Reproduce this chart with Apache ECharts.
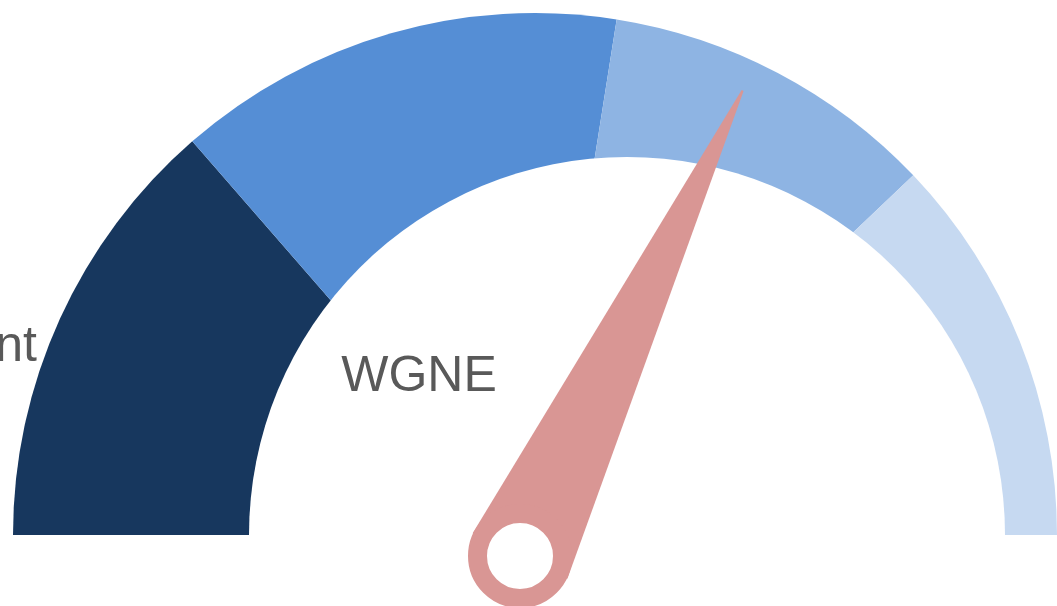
<!DOCTYPE html>
<html>
<head>
<meta charset="utf-8">
<script src="https://cdn.jsdelivr.net/npm/echarts@6/dist/echarts.min.js"></script>
<style>
	html, body { margin: 0; padding: 0; background: #fff; }
	#chart { width: 1057px; height: 606px; }
</style>
</head>
<body>
<div id="chart"></div>
<script type="text/javascript">
    // 分段（上半圆，总和 100）
    var bandNames = ['段1', '段2', '段3', '段4'];
    var bandValues = [27.2, 27.8, 20.8, 24.2];
    var bandColors = ['#17375E', '#558ED5', '#8EB4E3', '#C6D9F1'];
    // 指针
    var needleName = 'WGNE';
    var needleValue = 64.2;
    var sideLabel = 'nt';

    var total = 0;
    for (var i = 0; i < bandValues.length; i++) total += bandValues[i];

    var bandData = [];
    for (var i = 0; i < bandValues.length; i++) {
        bandData.push({ name: bandNames[i], value: bandValues[i], itemStyle: { color: bandColors[i] } });
    }
    // 下半圆隐藏
    bandData.push({ name: 'hidden', value: total, itemStyle: { color: 'none' } });

    var myChart = echarts.init(document.getElementById('chart'), null, { renderer: 'canvas' });
    var option = {
        animation: false,
        backgroundColor: '#fff',
        graphic: [
            {
                type: 'text', right: 1057 - 37, top: 322, z: 10,
                style: { text: sideLabel, fill: '#595959', font: '50px "Liberation Sans", Arial, sans-serif' }
            }
        ],
        series: [
            {
                type: 'pie',
                center: [535, 535],
                radius: [0, 522],
                startAngle: 180,
                clockwise: true,
                silent: true,
                label: { show: false },
                labelLine: { show: false },
                data: bandData,
                z: 1
            },
            {
                // 内侧白色
                type: 'pie',
                center: [627, 535],
                radius: [0, 378],
                silent: true,
                label: { show: false },
                labelLine: { show: false },
                data: [{ value: 1, itemStyle: { color: '#fff' } }],
                z: 2
            },
            {
                type: 'gauge',
                center: [520, 556],
                radius: 516,
                startAngle: 180,
                endAngle: 0,
                min: 0,
                max: 100,
                z: 5,
                axisLine: { show: false },
                splitLine: { show: false },
                axisTick: { show: false },
                axisLabel: { show: false },
                pointer: {
                    icon: 'path://M49,0 L51,0 L100,1000 L0,1000 Z',
                    length: 516,
                    width: 105,
                    itemStyle: { color: '#D99694' }
                },
                anchor: {
                    show: true,
                    showAbove: true,
                    size: 85,
                    itemStyle: { color: '#fff', borderColor: '#D99694', borderWidth: 19 }
                },
                title: {
                    offsetCenter: [-101, -179],
                    fontSize: 50,
                    color: '#595959',
                    fontFamily: '"Liberation Sans", Arial, sans-serif'
                },
                detail: { show: false },
                data: [{ value: needleValue, name: needleName }]
            }
        ]
    };
    myChart.setOption(option);
</script>
</body>
</html>
